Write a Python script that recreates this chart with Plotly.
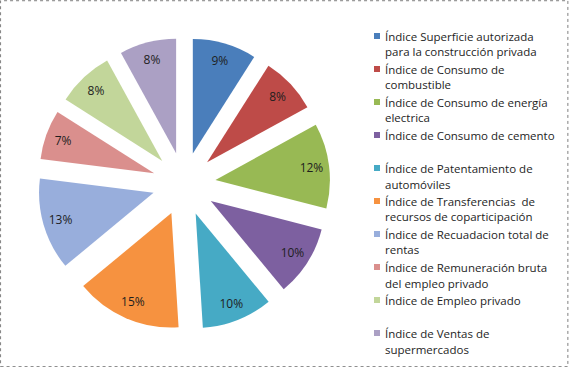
import plotly.graph_objects as go

categories = [
    "Índice Superficie autorizada<br>para la construcción privada",
    "Índice de Consumo de<br>combustible",
    "Índice de Consumo de energía<br>electrica",
    "Índice de Consumo de cemento",
    "Índice de Patentamiento de<br>automóviles",
    "Índice de Transferencias  de<br>recursos de coparticipación",
    "Índice de Recuadacion total de<br>rentas",
    "Índice de Remuneración bruta<br>del empleo privado",
    "Índice de Empleo privado",
    "Índice de Ventas de<br>supermercados",
]
values = [9, 8, 12, 10, 10, 15, 13, 7, 8, 8]
colors = ["#4A7EBB", "#BE4B48", "#98B954", "#7D60A0", "#46AAC5",
          "#F69240", "#98AEDC", "#DA8F8D", "#C2D69A", "#ABA0C4"]

W, H = 569, 367
FONT = "Open Sans, Noto Sans, sans-serif"
TXT = "#1E1E1E"

def px_x(x):
    return x / W

def px_y(y):
    return 1 - y / H

# exploded pie (slices)
fig = go.Figure(go.Pie(
    labels=categories,
    values=values,
    sort=False,
    direction="clockwise",
    rotation=0,
    pull=0.277,
    marker=dict(colors=colors, line=dict(width=0)),
    textinfo="none",
    domain=dict(x=[0.0664, 0.5803], y=[0.1003, 0.897]),
    hoverinfo="label+percent",
    showlegend=False,
))

# transparent ring carrying the percentage labels
fig.add_trace(go.Pie(
    labels=categories,
    values=values,
    sort=False,
    direction="clockwise",
    rotation=0,
    hole=0.7,
    marker=dict(colors=["rgba(0,0,0,0)"] * len(values), line=dict(width=0)),
    textinfo="percent",
    texttemplate="%{percent:.0%}",
    textposition="inside",
    insidetextorientation="horizontal",
    textfont=dict(family=FONT, size=12, color=TXT),
    domain=dict(x=[0.0576, 0.5891], y=[0.0866, 0.9106]),
    hoverinfo="skip",
    showlegend=False,
))

# legend drawn as text + small colour squares
shapes = [dict(type="rect", xref="paper", yref="paper",
               x0=0.001, y0=0.001, x1=0.998, y1=0.998,
               line=dict(color="#7F7F7F", width=1, dash="dot"))]
annotations = []
y0, step, lh = 36, 33, 16
for i, (name, col) in enumerate(zip(categories, colors)):
    yc = y0 + step * i
    shapes.append(dict(type="rect", xref="paper", yref="paper",
                       x0=px_x(374), x1=px_x(380),
                       y0=px_y(yc + 3), y1=px_y(yc - 3),
                       fillcolor=col, line=dict(width=0)))
    for j, line in enumerate(name.split("<br>")):
        annotations.append(dict(
            xref="paper", yref="paper", x=px_x(383), y=px_y(yc + j * lh),
            xanchor="left", yanchor="middle", showarrow=False,
            text=line, font=dict(family=FONT, size=11.5, color=TXT)))

fig.update_layout(
    width=W, height=H,
    margin=dict(l=0, r=0, t=0, b=0),
    paper_bgcolor="white",
    plot_bgcolor="white",
    font=dict(family=FONT, size=12, color=TXT),
    shapes=shapes,
    annotations=annotations,
)

fig.write_html("out.html",
               config={"displayModeBar": False},
               post_script="document.body.style.margin='0';document.body.style.overflow='hidden';")
